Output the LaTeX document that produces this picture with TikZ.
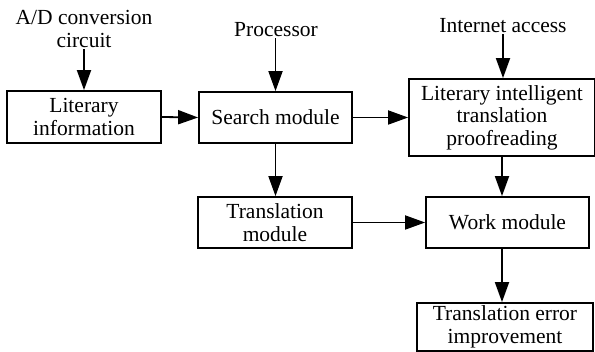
\documentclass[tikz,border=0pt]{standalone}
\usepackage{fontspec}
\setmainfont{Liberation Serif}
\usetikzlibrary{arrows.meta}
\begin{document}
\begin{tikzpicture}[x=1pt,y=-1pt,
  box/.style={draw,line width=1.8pt,align=center,inner sep=0pt,font=\fontsize{21.5}{22.5}\selectfont},
  lbl/.style={align=center,inner sep=1pt,font=\fontsize{21.5}{23.5}\selectfont},
  arr/.style={line width=1.8pt,-{Triangle[length=20pt,width=14pt]}}]
\useasboundingbox (0,0) rectangle (595,352);
\node[box,minimum width=154pt,minimum height=52pt] (lit) at (84,117) {Literary\\information};
\node[box,minimum width=153pt,minimum height=51pt] (search) at (275.5,117.5) {Search module};
\node[box,minimum width=186pt,minimum height=77pt] (prf) at (502,117.5) {Literary intelligent\\translation\\proofreading};
\node[box,minimum width=154pt,minimum height=51pt] (trans) at (275,222.5) {Translation\\module};
\node[box,minimum width=163pt,minimum height=51pt] (work) at (507.5,222.5) {Work module};
\node[box,minimum width=176pt,minimum height=48pt] (err) at (505,327) {Translation error\\improvement};
\node[lbl] (ad) at (84,29) {A/D conversion\\circuit};
\node[lbl] (proc) at (276,30) {Processor};
\node[lbl] (inet) at (503,26) {Internet access};
\draw[arr] (ad.south) -- (lit.north);
\draw[arr] (proc.south -| search.north) -- (search.north);
\draw[arr] (inet.south) -- (inet.south |- prf.north);
\draw[arr] (lit.east) -- (search.west);
\draw[arr] (search.east) -- (search.east -| prf.west);
\draw[arr] (search.south) -- (search.south |- trans.north);
\draw[arr] (prf.south) -- (prf.south |- work.north);
\draw[arr] (trans.east) -- (work.west);
\draw[arr] (work.south -| prf.south) -- (prf.south |- err.north);
\end{tikzpicture}
\end{document}
